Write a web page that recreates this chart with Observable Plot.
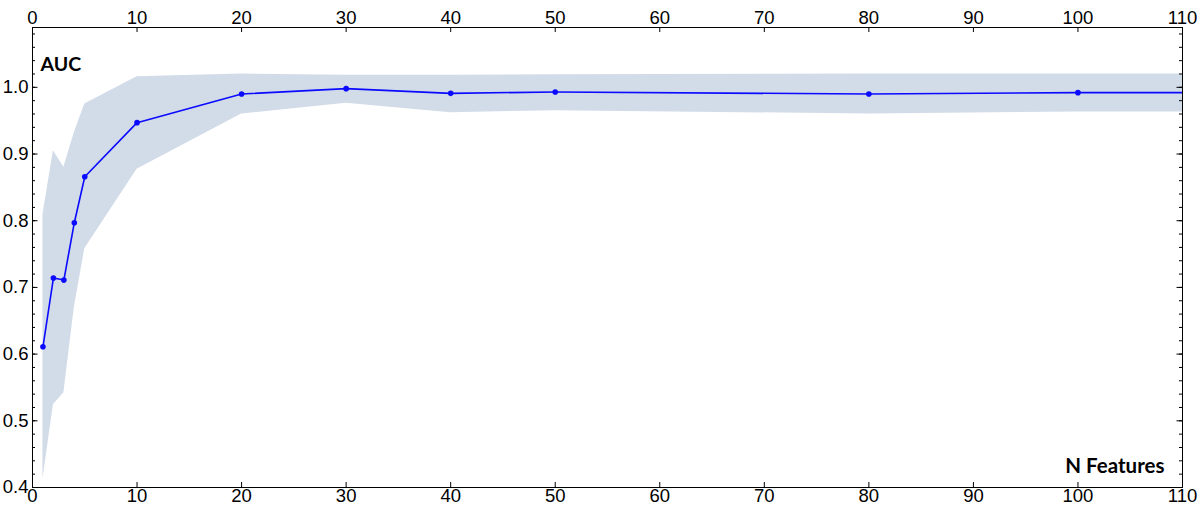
<!DOCTYPE html>
<html>
<head>
<meta charset="utf-8">
<script src="https://cdn.jsdelivr.net/npm/d3@7"></script>
<script src="https://cdn.jsdelivr.net/npm/@observablehq/plot@0.6"></script>
<style>
  html, body { margin: 0; padding: 0; background: #fff; }
  #chart svg { overflow: visible; display: block; }
</style>
</head>
<body>
<div id="chart"></div>
<script>
// Number of features
const nFeatures = [1, 2, 3, 4, 5, 10, 20, 30, 40, 50, 80, 100, 120];
// Mean AUC
const aucMean   = [0.611, 0.714, 0.711, 0.797, 0.866, 0.947, 0.990, 0.998, 0.991, 0.993, 0.990, 0.992, 0.992];
// Band lower / upper
const aucLower  = [0.413, 0.524, 0.542, 0.670, 0.758, 0.877, 0.960, 0.976, 0.962, 0.965, 0.960, 0.963, 0.963];
const aucUpper  = [0.809, 0.905, 0.880, 0.932, 0.975, 1.016, 1.020, 1.018, 1.018, 1.019, 1.020, 1.020, 1.020];
// Points shown with markers (last value lies beyond the axis)
const markerCount = 12;

const xTicks = [0, 10, 20, 30, 40, 50, 60, 70, 80, 90, 100, 110];
const yTicks = [0.4, 0.5, 0.6, 0.7, 0.8, 0.9, 1.0];
const yMinorTicks = d3.range(20, 55).map(d => d / 50).filter(v => v <= 1.09);

const data = nFeatures.map((n, i) => ({n, mean: aucMean[i], lo: aucLower[i], hi: aucUpper[i]}));

const W = 1200, H = 514;
const mL = 32, mR = 18, mT = 27, mB = 27;
const innerW = W - mL - mR, innerH = H - mT - mB;

const tickFont = "Liberation Sans";
const tickSize = 18.5;

const plot = Plot.plot({
  width: W,
  height: H,
  marginLeft: mL,
  marginRight: mR,
  marginTop: mT,
  marginBottom: mB,
  style: {background: "#fff"},
  x: {domain: [0, 110], axis: null},
  y: {domain: [0.4, 1.0897], axis: null},
  marks: [
    Plot.areaY(data, {x: "n", y1: "lo", y2: "hi", fill: "#d2dbe8", clip: true}),
    Plot.lineY(data, {x: "n", y: "mean", stroke: "#0a0aff", strokeWidth: 1.6, clip: true}),
    Plot.dot(data.slice(0, markerCount), {x: "n", y: "mean", r: 2.8, fill: "#0a0aff", stroke: "none"}),
    // inward ticks: bottom, top
    Plot.ruleX(xTicks, {x: d => d, insetTop: innerH - 5, stroke: "#000", strokeWidth: 1}),
    Plot.ruleX(xTicks, {x: d => d, insetBottom: innerH - 5, stroke: "#000", strokeWidth: 1}),
    // inward ticks: left & right (minor and major)
    Plot.ruleY(yMinorTicks, {y: d => d, insetRight: innerW - 3, stroke: "#000", strokeWidth: 1}),
    Plot.ruleY(yTicks, {y: d => d, insetRight: innerW - 5.5, stroke: "#000", strokeWidth: 1}),
    Plot.ruleY(yMinorTicks, {y: d => d, insetLeft: innerW - 3, stroke: "#000", strokeWidth: 1}),
    Plot.ruleY(yTicks, {y: d => d, insetLeft: innerW - 5.5, stroke: "#000", strokeWidth: 1}),
    Plot.frame({stroke: "#000", strokeWidth: 1}),
    // tick labels
    Plot.text(xTicks, {x: d => d, frameAnchor: "bottom", lineAnchor: "top", dy: 1, text: d => String(d), fontFamily: tickFont, fontSize: tickSize, fill: "#000"}),
    Plot.text(xTicks, {x: d => d, frameAnchor: "top", lineAnchor: "bottom", dy: -4, text: d => String(d), fontFamily: tickFont, fontSize: tickSize, fill: "#000"}),
    Plot.text(yTicks, {y: d => d, frameAnchor: "left", textAnchor: "end", dx: -4, text: d => d.toFixed(1), fontFamily: tickFont, fontSize: tickSize, fill: "#000"}),
    // inner labels
    Plot.text(["AUC"], {frameAnchor: "top-left", dx: 8, dy: 30, text: d => d, fontFamily: "Lato", fontWeight: "bold", fontSize: 19.5, textAnchor: "start", fill: "#000"}),
    Plot.text(["N Features"], {frameAnchor: "bottom-right", dx: -18, dy: -15, text: d => d, fontFamily: "Lato", fontWeight: "bold", fontSize: 20.5, textAnchor: "end", fill: "#000"})
  ]
});

document.getElementById("chart").appendChild(plot);
</script>
</body>
</html>
